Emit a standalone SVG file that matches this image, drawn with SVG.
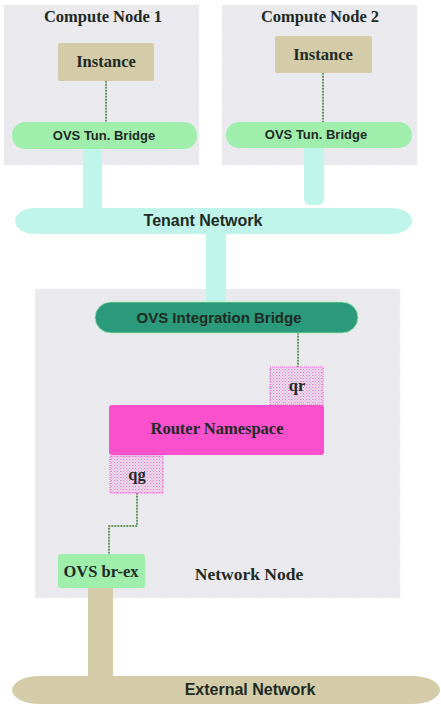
<svg xmlns="http://www.w3.org/2000/svg" width="441" height="711" viewBox="0 0 441 711">
<defs>
<pattern id="stip" width="3" height="3" patternUnits="userSpaceOnUse">
<rect width="3" height="3" fill="#ece6ee"/>
<rect width="1" height="1" fill="#f060d0"/>
<rect x="1.5" y="1.5" width="1" height="1" fill="#f060d0"/>
</pattern>
</defs>
<style>
.host{fill:#e9e9ee;stroke:#f2f2f4;stroke-width:1;stroke-dasharray:2,1}
.inst{fill:#d4cca8}
.tun{fill:#a0eeac}
.serif{font-family:"Liberation Serif",serif;font-weight:bold;fill:#1e2a24;text-anchor:middle}
.sans{font-family:"Liberation Sans",Arial,sans-serif;font-weight:bold;fill:#1e2a24;text-anchor:middle}
.dot{fill:none;stroke:#2a8a6a;stroke-width:1.5;stroke-dasharray:1.5,1.5}
.dotbg{fill:none;stroke:#d4cca8;stroke-width:2}
.port{fill:url(#stip);stroke:#f060d0;stroke-width:1;stroke-dasharray:1,1}
</style>
<g id="compute1">
<rect class="host" x="4" y="5" width="195" height="160"/>
<text class="serif" x="103" y="22" font-size="16.5">Compute Node 1</text>
</g>
<g id="compute2">
<rect class="host" x="222" y="5" width="195" height="160"/>
<text class="serif" x="320" y="22" font-size="16.5">Compute Node 2</text>
</g>
<g id="network-node">
<rect class="host" x="35" y="289" width="365" height="309"/>
<text class="serif" x="249" y="580" font-size="17.5">Network Node</text>
</g>
<g id="connectors">
<rect x="83" y="140" width="19" height="72" fill="#c0f5ec"/>
<rect x="304" y="140" width="20" height="65" rx="6" fill="#c0f5ec"/>
<rect x="304" y="140" width="20" height="55" fill="#c0f5ec"/>
<rect x="206" y="228" width="20" height="78" fill="#c0f5ec"/>
<rect x="88" y="585" width="25" height="95" fill="#d4cca8"/>
<path class="dotbg" d="M106 81V122"/><path class="dot" d="M106 81V122"/>
<path class="dotbg" d="M323 73V122"/><path class="dot" d="M323 73V122"/>
<path class="dotbg" d="M298 333V367"/><path class="dot" d="M298 333V367"/>
<path class="dotbg" d="M137 493V526H109V555"/><path class="dot" d="M137 493V526H109V555"/>
</g>
<g id="instance1">
<rect class="inst" x="58" y="43" width="96" height="38" rx="2"/>
<text class="serif" x="106" y="67" font-size="16.5">Instance</text>
</g>
<g id="instance2">
<rect class="inst" x="275" y="36" width="97" height="37" rx="2"/>
<text class="serif" x="323" y="60" font-size="16.5">Instance</text>
</g>
<g id="tun1">
<rect class="tun" x="12" y="122" width="185" height="27" rx="13"/>
<text class="sans" x="104" y="140" font-size="13">OVS Tun. Bridge</text>
</g>
<g id="tun2">
<rect class="tun" x="226" y="122" width="186" height="26" rx="13"/>
<text class="sans" x="316" y="139" font-size="13">OVS Tun. Bridge</text>
</g>
<g id="tenant">
<rect x="15" y="208" width="397" height="26" rx="20" ry="13" fill="#c0f5ec"/>
<text class="sans" x="203" y="226" font-size="16">Tenant Network</text>
</g>
<g id="integration">
<rect x="95" y="302" width="263" height="31" rx="16" fill="#2a9a7a" stroke="#a0eeac" stroke-width="0.8"/>
<text class="sans" x="219" y="323" font-size="15">OVS Integration Bridge</text>
</g>
<g id="qr">
<rect class="port" x="270" y="367" width="53" height="38"/>
<text class="serif" x="297" y="391" font-size="16.5">qr</text>
</g>
<g id="router">
<rect x="109" y="405" width="215" height="50" rx="3" fill="#fa50cc"/>
<text class="serif" x="217" y="434" font-size="16.5">Router Namespace</text>
</g>
<g id="qg">
<rect class="port" x="110" y="456" width="53" height="37"/>
<text class="serif" x="137" y="480" font-size="16.5">qg</text>
</g>
<g id="brex">
<rect class="tun" x="58" y="554" width="87" height="34" rx="3"/>
<text class="serif" x="101" y="577" font-size="16.5">OVS br-ex</text>
</g>
<g id="external">
<rect x="12" y="676" width="428" height="28" rx="28" ry="14" fill="#d4cca8"/>
<text class="sans" x="250" y="695" font-size="16">External Network</text>
</g>
</svg>
